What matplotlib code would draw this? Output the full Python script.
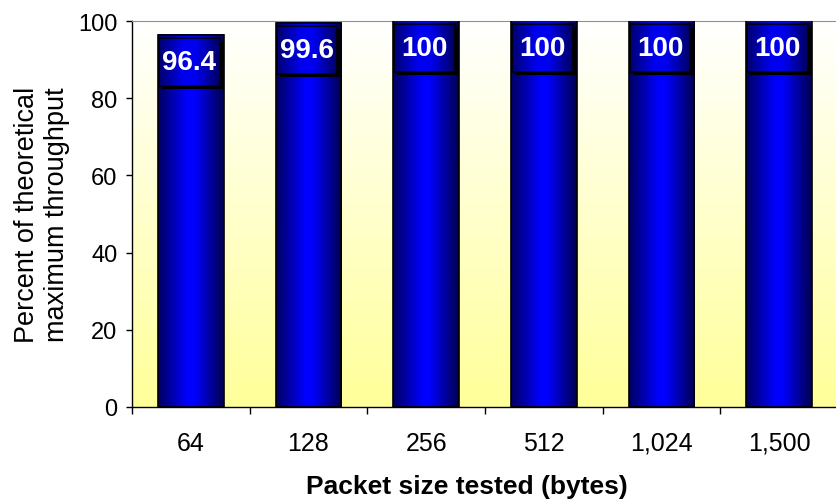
import numpy as np
import matplotlib
matplotlib.use("Agg")
import matplotlib.pyplot as plt
from matplotlib.colors import LinearSegmentedColormap
from matplotlib.patches import Rectangle

plt.rcParams['font.family'] = ['Liberation Sans', 'DejaVu Sans']

# --- Data ---
packet_sizes = ['64', '128', '256', '512', '1,024', '1,500']
throughput_pct = [96.4, 99.6, 100, 100, 100, 100]
value_labels = ['96.4', '99.6', '100', '100', '100', '100']

# --- Colour gradients ---
bg_cmap = LinearSegmentedColormap.from_list('bg', ['#FFFF99', '#FFFFFF'])
bar_cmap = LinearSegmentedColormap.from_list(
    'bar', [(0.0, '#000060'), (0.45, '#0000FF'), (0.55, '#0000FF'), (1.0, '#000050')])
box_cmap = LinearSegmentedColormap.from_list(
    'box', [(0.0, '#000070'), (0.4, '#0000F0'), (0.6, '#0000F0'), (1.0, '#000060')])

W, H = 837, 502
fig = plt.figure(figsize=(W / 100, H / 100), dpi=100)
ax = fig.add_axes([132 / W, 1 - 408 / H, 706 / W, 386 / H])

x = np.arange(len(packet_sizes))
bar_w = 0.56
px_x = 1 / 117.7        # data units per pixel, x
px_y = 100 / 386        # data units per pixel, y

# background
vgrad = np.linspace(0, 1, 256).reshape(-1, 1)
ax.imshow(vgrad, cmap=bg_cmap, extent=(-0.5, 5.5, 0, 100), origin='lower',
          aspect='auto', zorder=0)

hgrad = np.linspace(0, 1, 256).reshape(1, -1)
bars = ax.bar(x, throughput_pct, width=bar_w, color='none',
              edgecolor='black', linewidth=1.2, zorder=3)
for b in bars:
    x0, h = b.get_x(), b.get_height()
    ax.imshow(hgrad, cmap=bar_cmap, extent=(x0, x0 + bar_w, 0, h),
              aspect='auto', zorder=2)

# value boxes
box_h = 48 * px_y
for xi, h, txt in zip(x, throughput_pct, value_labels):
    left = xi - bar_w / 2 + 1 * px_x
    right = xi + bar_w / 2 - 4 * px_x
    top = h - 3 * px_y
    bottom = top - box_h
    ax.add_patch(Rectangle((left + 3 * px_x, bottom - 3 * px_y), right - left, box_h,
                           facecolor='black', edgecolor='none', zorder=4))
    ax.imshow(hgrad, cmap=box_cmap, extent=(left, right, bottom, top),
              aspect='auto', zorder=5)
    ax.add_patch(Rectangle((left, bottom), right - left, box_h, facecolor='none',
                           edgecolor='black', linewidth=1.2, zorder=6))
    ax.text((left + right) / 2, (top + bottom) / 2, txt, color='white',
            fontsize=20, fontweight='bold', ha='center', va='center', zorder=7)

ax.set_xlim(-0.5, 5.5)
ax.set_ylim(0, 100)

ax.set_xticks(x)
ax.set_xticklabels(packet_sizes, fontsize=18)
ax.set_xticks(np.arange(-0.5, 6, 1), minor=True)
ax.tick_params(axis='x', which='major', length=0, pad=17)
ax.tick_params(axis='x', which='minor', length=5, width=1, color='black')
ax.set_yticks(np.arange(0, 101, 20))
ax.tick_params(axis='y', labelsize=17, length=4.5, width=1, pad=6)

ax.spines['top'].set_color('#909090')
ax.spines['right'].set_visible(False)
ax.spines['left'].set_linewidth(1)
ax.spines['bottom'].set_linewidth(1)

ax.set_ylabel('Percent of theoretical\nmaximum throughput', fontsize=19.5,
              linespacing=1.2, labelpad=6)
ax.set_xlabel('Packet size tested (bytes)', fontsize=19, fontweight='bold',
              labelpad=14, x=0.4745)

fig.savefig('out.png', dpi=100)
